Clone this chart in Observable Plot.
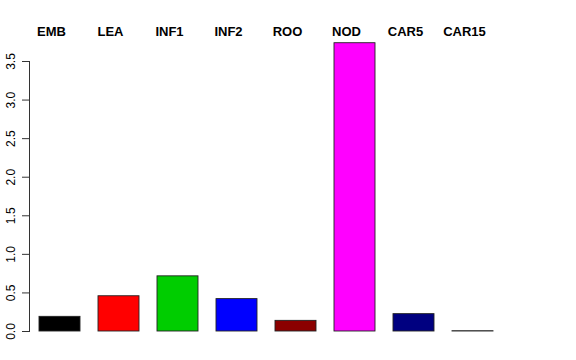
<!DOCTYPE html>
<html>
<head>
<meta charset="utf-8">
<script src="https://cdn.jsdelivr.net/npm/d3@7"></script>
<script src="https://cdn.jsdelivr.net/npm/@observablehq/plot@0.6"></script>
<style>
  html, body { margin: 0; padding: 0; background: #fff; }
  #chart { width: 576px; height: 360px; font-family: "Liberation Sans", Arial, Helvetica, sans-serif; }
  #chart svg { display: block; }
</style>
</head>
<body>
<div id="chart"></div>
<script>
const tissues = ["EMB", "LEA", "INF1", "INF2", "ROO", "NOD", "CAR5", "CAR15"];
const values = [0.19, 0.457, 0.715, 0.42, 0.138, 3.737, 0.225, 0.004];
const colors = ["#000000", "#FF0000", "#00CD00", "#0000FF", "#8B0000", "#FF00FF", "#000080", "#BEBEBE"];
const yTicks = [0, 0.5, 1, 1.5, 2, 2.5, 3, 3.5];

const data = tissues.map((t, i) => ({tissue: t, value: values[i], color: colors[i]}));
const font = "'Liberation Sans', Arial, Helvetica, sans-serif";

const chart = Plot.plot({
  width: 576,
  height: 360,
  marginLeft: 29,
  marginRight: 72,
  marginTop: 61,
  marginBottom: 29,
  style: {fontFamily: font, fontSize: "12px", background: "white", color: "black"},
  x: {type: "band", domain: tissues, paddingInner: 0.297, paddingOuter: 0.157, axis: null},
  y: {domain: [0, 3.5], axis: null, label: null},
  marks: [
    Plot.barY(data, {x: "tissue", y: "value", fill: "color", stroke: "#222", strokeWidth: 0.9}),
    Plot.frame({anchor: "left", stroke: "#333"}),
    Plot.axisY({ticks: yTicks, label: null, tickSize: 7, tickPadding: 8, tickRotate: -90, tickFormat: d3.format(".1f"), fontSize: 12, stroke: "#333", fill: "black"}),
    Plot.text(data, {x: "tissue", frameAnchor: "top", dy: -26, dx: -8.5, text: "tissue", textAnchor: "middle", lineAnchor: "bottom", fontWeight: "bold", fontSize: 13, fill: "black"})
  ]
});

document.getElementById("chart").appendChild(chart);
</script>
</body>
</html>
